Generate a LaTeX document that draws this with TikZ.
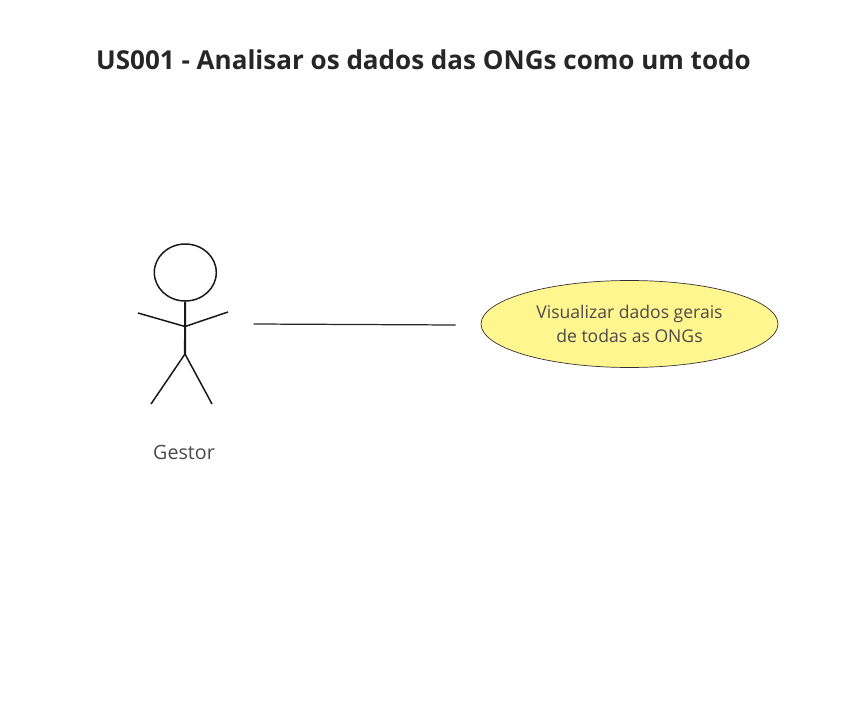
\documentclass[tikz,border=0pt]{standalone}
\usepackage{fontspec}
\setmainfont{Open Sans}
\usetikzlibrary{shapes.geometric}
\definecolor{usecasefill}{HTML}{FFF68F}
\definecolor{textgrey}{HTML}{4A4A4A}
\tikzstyle{title}=[font=\fontsize{14.82}{17}\selectfont\bfseries, text=black!85]
\tikzstyle{label}=[font=\fontsize{10}{13.9}\selectfont, text=textgrey, align=center]
\tikzstyle{actorlabel}=[font=\fontsize{11.2}{14}\selectfont, text=textgrey]
\tikzstyle{usecase}=[ellipse, draw=black!80, fill=usecasefill, line width=0.4pt, minimum width=5.94cm, minimum height=1.74cm, inner sep=0pt]
\tikzstyle{head}=[ellipse, draw=black!90, line width=0.85pt, minimum width=1.24cm, minimum height=1.14cm, inner sep=0pt]
\tikzstyle{limb}=[draw=black!90, line width=0.85pt]
\tikzstyle{torso}=[draw=black!90, line width=1.2pt]
\begin{document}
\begin{tikzpicture}[x=0.02cm, y=-0.02cm]
		   \useasboundingbox (0, 0) rectangle (856, 706);
		   \begin{scope}
			   \node (title) at (423.5, 60)[title] {US001 - Analisar os dados das ONGs como um todo};
			   \node (head) at (185.3, 272.5)[head] {};
			   \coordinate (shoulder) at (185, 326.5);
			   \coordinate (hip) at (185, 354);
			   \coordinate (handl) at (138, 313);
			   \coordinate (handr) at (228, 312);
			   \coordinate (footl) at (151, 404);
			   \coordinate (footr) at (212, 404);
			   \node (gestor) at (184, 452)[actorlabel] {Gestor};
			   \coordinate (linestart) at (253.5, 324);
			   \coordinate (lineend) at (455.5, 325);
			   \node (visualizar) at (629.5, 324)[usecase] {};
			   \node (visualizartext) at (629.5, 324)[label] {Visualizar dados gerais\\de todas as ONGs};
		   \end{scope}
		   \begin{scope}
			   \path [torso] (head) -- (hip);
			   \path [limb] (shoulder) -- (handl);
			   \path [limb] (shoulder) -- (handr);
			   \path [limb] (hip) -- (footl);
			   \path [limb] (hip) -- (footr);
			   \path [draw=black!85, line width=0.7pt] (linestart) -- (lineend);
		   \end{scope}
\end{tikzpicture}
\end{document}
